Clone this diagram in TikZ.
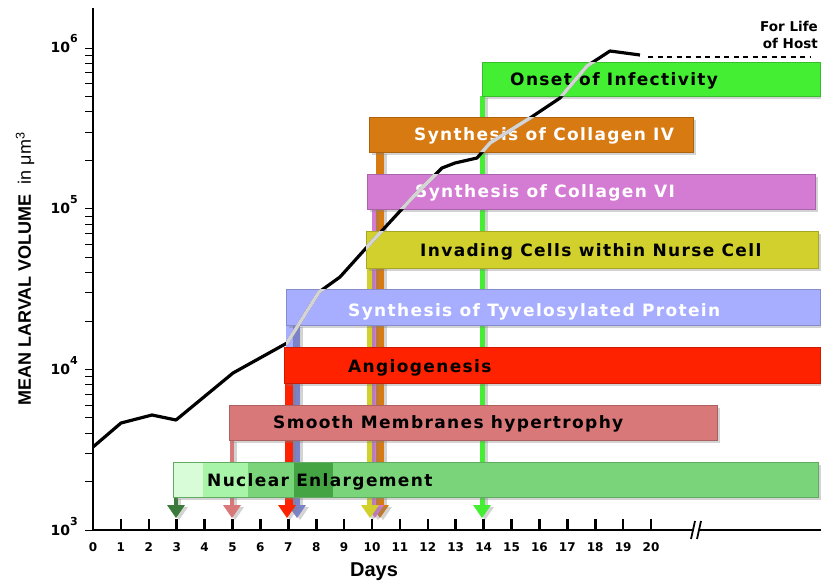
\documentclass[tikz,border=0pt]{standalone}
\usepackage{fontspec}
\setmainfont{DejaVu Sans}
\newfontfamily\barfont[LetterSpace=8]{DejaVu Sans}
\newfontfamily\helv{Liberation Sans}
\usepackage{tikz}
\usetikzlibrary{calc,shadows}

\definecolor{infect}{HTML}{44EE33}
\definecolor{colIV}{HTML}{D87A12}
\definecolor{colVI}{HTML}{D47CD4}
\definecolor{invade}{HTML}{D2D02C}
\definecolor{tyvel}{HTML}{A8AEFF}
\definecolor{tyvelstem}{HTML}{7C82C6}
\definecolor{angio}{HTML}{FF2200}
\definecolor{smooth}{HTML}{D87878}
\definecolor{nucl}{HTML}{7AD47A}
\definecolor{nuclA}{HTML}{D8FCD8}
\definecolor{nuclB}{HTML}{A8F4A8}
\definecolor{nuclD}{HTML}{44A444}
\definecolor{nuclarrow}{HTML}{3C7A3C}
\definecolor{overbar}{HTML}{D4D4D4}

\tikzset{
  phasebar/.style={fill=#1, draw=#1!80!black, line width=.5pt,
    drop shadow={shadow xshift=3pt,shadow yshift=-3pt,opacity=.35}},
  stalk/.style={fill=#1, drop shadow={shadow xshift=3pt,shadow yshift=-2pt,opacity=.35}},
  barlabel/.style={anchor=base west, inner sep=0pt, font=\barfont\bfseries\fontsize{17}{20}\selectfont},
  daylabel/.style={anchor=base, inner sep=0pt, font=\bfseries\fontsize{12}{14}\selectfont},
  powlabel/.style={anchor=base east, inner sep=0pt, font=\bfseries\fontsize{14}{16}\selectfont},
  axisline/.style={line width=2.6pt},
  larva/.style={line width=3.2pt, line join=round}
}

\newcommand\larvacurve[1]{\draw[larva,#1] (93,447) -- (121,423) -- (152,415) -- (176,420)
  -- (233,373) -- (287,343) -- (319,292) -- (340,277) -- (367,247) -- (413,197) -- (430,180)
  -- (442,168) -- (455,163) -- (477,158) -- (490,143) -- (530,118) -- (560,98) -- (587,66)
  -- (610,51) -- (640,55) ;}

\begin{document}
\begin{tikzpicture}[x=1pt,y=-1pt]
  \useasboundingbox (0,0) rectangle (821,581) ;

  % axes
  \draw[axisline] (93,8) -- (93,530) -- (694,530) ; \draw[axisline] (700,530) -- (821,530) ;
  \draw[line width=1.8pt] (691,539) -- (695,521) (697,539) -- (701,521) ;
  \foreach \d in {1,...,20} \draw[axisline] ({93+27.9*\d},519) -- ({93+27.9*\d},530) ;
  \foreach \d in {0,...,20} \node[daylabel] (day\d) at ({93+27.9*\d},551) {\d} ;
  \node[anchor=base, inner sep=0pt, font=\helv\bfseries\fontsize{20}{24}\selectfont] (days) at (374,576) {Days} ;

  \foreach \e in {3,4,5} \foreach \m in {2,...,9}
    \draw[line width=.8pt] (85,{530-160.7*(\e-3+log10(\m))}) -- (93,{530-160.7*(\e-3+log10(\m))}) ;
  \foreach \e in {3,...,6} {
    \draw[line width=.8pt] (85,{530-160.7*(\e-3)}) -- (93,{530-160.7*(\e-3)}) ;
    \node[powlabel] (pow\e) at (78,{535-160.7*(\e-3)}) {10\raisebox{10pt}{\fontsize{11}{11}\selectfont\e}} ;
  }
  \node[rotate=90, inner sep=0pt, font=\helv\fontsize{18}{20}\selectfont] (ylabel) at (25,269)
    {\bfseries MEAN LARVAL VOLUME\ \ \mdseries in μm\textsuperscript{3}} ;

  % stems and arrow heads
  \foreach \xa/\xb/\ytop/\col in {480/485/96/infect, 376/384/152/colIV, 372/376/209/colVI,
      367/372/268/invade, 286/293/325/tyvel, 293/300/325/tyvelstem, 285/293/383/angio,
      230/234/440/smooth, 174/178/497/nuclarrow}
    \path[stalk=\col] (\xa,\ytop) rectangle (\xb,506) ;
  \foreach \ax/\col in {482/infect, 380/colIV, 375/colVI, 370/invade, 297/tyvelstem,
      287/angio, 232/smooth, 176/nuclarrow}
    \path[stalk=\col] (\ax-9,505) -- (\ax+9,505) -- (\ax,518) -- cycle ;

  % bars
  \foreach \xa/\ya/\xb/\yb/\col in {482/62/820/96/infect, 369/117/693/152/colIV,
      367/174/815/209/colVI, 366/231/818/268/invade, 286/289/820/325/tyvel,
      284/347/820/383/angio, 229/405/717/440/smooth}
    \path[phasebar=\col] (\xa,\ya) rectangle (\xb,\yb) ;
  \path[phasebar=nucl] (173,462) rectangle (818,497) ;
  \fill[nuclA] (173.5,462.5) rectangle (203,496.5) ; \fill[nuclB] (203,462.5) rectangle (248,496.5) ;
  \fill[nuclD] (294,462.5) rectangle (333,496.5) ;
  \draw[nucl!80!black, line width=.5pt] (173,462) rectangle (818,497) ;

  \node[barlabel] (infectlbl) at (510,85) {Onset of Infectivity} ;
  \node[barlabel, white] (colIVlbl) at (414,140) {Synthesis of Collagen IV} ;
  \node[barlabel, white] (colVIlbl) at (415,197) {Synthesis of Collagen VI} ;
  \node[barlabel] (invadelbl) at (420,256) {Invading Cells within Nurse Cell} ;
  \node[barlabel, white] (tyvellbl) at (348,316) {Synthesis of Tyvelosylated Protein} ;
  \node[barlabel] (angiolbl) at (348,372) {Angiogenesis} ;
  \node[barlabel] (smoothlbl) at (273,428) {Smooth Membranes hypertrophy} ;
  \node[barlabel] (nucllbl) at (207,486) {Nuclear Enlargement} ;

  % growth curve, pale where it crosses the bars
  \larvacurve{black}
  \begin{scope}
    \clip (482,62) rectangle (820,96) (369,117) rectangle (693,152) (367,174) rectangle (815,209)
      (366,231) rectangle (818,268) (286,289) rectangle (820,325) (286,325) rectangle (300,347) ;
    \larvacurve{overbar, line width=3.6pt}
  \end{scope}
  \draw[line width=2pt, dash pattern=on 5pt off 4.5pt] (648,57) -- (810,57) ;
  \node[anchor=base east, inner sep=0pt, font=\bfseries\fontsize{13.5}{16}\selectfont] (lifeA) at (818,31) {For Life} ;
  \node[anchor=base east, inner sep=0pt, font=\bfseries\fontsize{13.5}{16}\selectfont] (lifeB) at (818,48) {of Host} ;
\end{tikzpicture}
\end{document}
